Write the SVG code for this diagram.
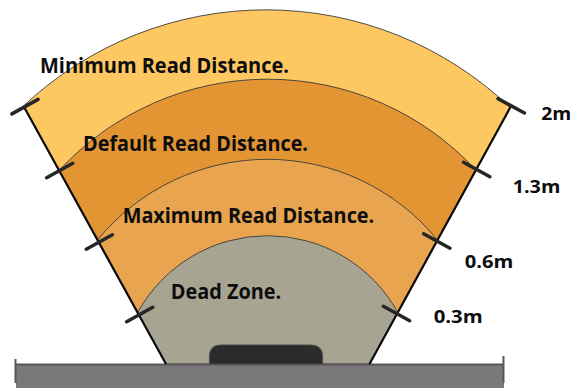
<svg xmlns="http://www.w3.org/2000/svg" width="584" height="388" viewBox="0 0 584 388">
<style>
.band{stroke:#3a3a3a;stroke-width:0.9}
.lbl{font-family:"Open Sans",Lato,"Liberation Sans",sans-serif;font-weight:bold;font-size:21px;fill:#0d0d0d}
.dist{font-family:"Open Sans",Lato,"Liberation Sans",sans-serif;font-weight:bold;font-size:18.5px;fill:#0d0d0d}
.tick{stroke:#262626;stroke-width:3.5;stroke-linecap:round}
.side{stroke:#0a0a0a;stroke-width:2.2;fill:none}
</style>
<rect width="584" height="388" fill="#ffffff"/>
<g id="min-band">
<path class="band" fill="#FDC862" d="M166,364 L23.5,106 A354,354 0 0 1 510.2,107.5 L369.5,364 Z"/>
<text class="lbl" x="40" y="72.7" textLength="249" lengthAdjust="spacingAndGlyphs">Minimum Read Distance.</text>
</g>
<g id="default-band">
<path class="band" fill="#E39533" d="M166,364 L59.1,170.5 A284,284 0 0 1 475.9,170 L369.5,364 Z"/>
<text class="lbl" x="83" y="150.7" textLength="225" lengthAdjust="spacingAndGlyphs">Default Read Distance.</text>
</g>
<g id="max-band">
<path class="band" fill="#E8A44F" d="M166,364 L97.5,240 A219.4,219.4 0 0 1 437.5,240 L369.5,364 Z"/>
<text class="lbl" x="122.7" y="222.7" textLength="251.5" lengthAdjust="spacingAndGlyphs">Maximum Read Distance.</text>
</g>
<g id="dead-zone">
<path class="band" fill="#A7A592" d="M166,364 L137.6,312.5 A148.6,148.6 0 0 1 397.8,312.5 L369.5,364 Z"/>
<text class="lbl" x="170.7" y="299" textLength="110.5" lengthAdjust="spacingAndGlyphs">Dead Zone.</text>
</g>
<g id="base">
<rect x="16" y="364" width="488" height="30" fill="#7A787A"/>
<line x1="16" y1="364.5" x2="504" y2="364.5" stroke="#58565A" stroke-width="2"/>
<line x1="15.5" y1="359" x2="15.5" y2="383" stroke="#58565A" stroke-width="2"/>
<line x1="503.5" y1="356" x2="503.5" y2="383" stroke="#58565A" stroke-width="2"/>
</g>
<g id="reader">
<path d="M209.5,364 L209.5,357 Q209.5,345 221.5,345 L310.5,345 Q322.5,345 322.5,357 L322.5,364 Z" fill="#2B2B2B" stroke="#4a4a4a" stroke-width="1.2"/>
</g>
<g id="connectors">
<line class="side" x1="23.5" y1="106" x2="166" y2="364"/>
<line class="side" x1="510.5" y1="107" x2="369.5" y2="364"/>
<line class="tick" x1="11.9" y1="113.9" x2="38.1" y2="99.4"/>
<line class="tick" x1="46.6" y1="177.7" x2="72.8" y2="163.3"/>
<line class="tick" x1="86.2" y1="249.2" x2="112.4" y2="234.8"/>
<line class="tick" x1="126.6" y1="321.7" x2="152.8" y2="307.3"/>
<line class="tick" x1="498" y1="98.6" x2="524.4" y2="113"/>
<line class="tick" x1="463.5" y1="162.3" x2="489.9" y2="176.7"/>
<line class="tick" x1="423.6" y1="233.8" x2="450" y2="248.2"/>
<line class="tick" x1="383.3" y1="306.3" x2="409.7" y2="320.7"/>
</g>
<g id="distances">
<text class="dist" x="541.3" y="120" textLength="30" lengthAdjust="spacingAndGlyphs">2m</text>
<text class="dist" x="512.7" y="192.7" textLength="47.6" lengthAdjust="spacingAndGlyphs">1.3m</text>
<text class="dist" x="464.7" y="267.7" textLength="48.6" lengthAdjust="spacingAndGlyphs">0.6m</text>
<text class="dist" x="433.7" y="323.3" textLength="49" lengthAdjust="spacingAndGlyphs">0.3m</text>
</g>
</svg>
